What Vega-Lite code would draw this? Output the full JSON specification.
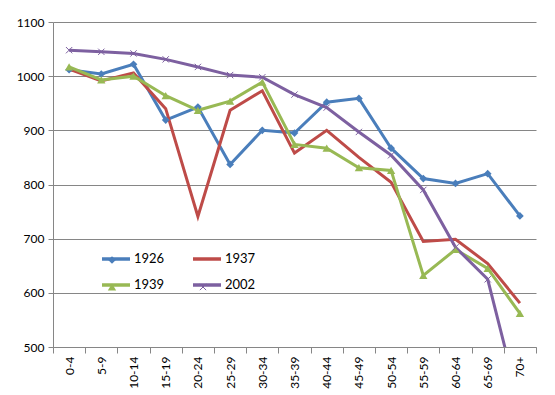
{
  "$schema": "https://vega.github.io/schema/vega-lite/v6.json",
  "width": 483,
  "height": 325,
  "autosize": {"type": "none"},
  "padding": {"left": 53, "top": 22, "right": 19, "bottom": 48},
  "background": "white",
  "config": {
    "view": {"stroke": null},
    "font": "Lato",
    "axis": {"labelFont": "Lato", "labelFontSize": 12, "labelColor": "#000000", "domainColor": "#868686", "tickColor": "#868686", "title": null}
  },
  "data": {
    "values": [
      {"age": "0-4", "series": "1926", "value": 1012},
      {"age": "5-9", "series": "1926", "value": 1004},
      {"age": "10-14", "series": "1926", "value": 1022},
      {"age": "15-19", "series": "1926", "value": 919},
      {"age": "20-24", "series": "1926", "value": 943},
      {"age": "25-29", "series": "1926", "value": 837},
      {"age": "30-34", "series": "1926", "value": 900},
      {"age": "35-39", "series": "1926", "value": 895},
      {"age": "40-44", "series": "1926", "value": 952},
      {"age": "45-49", "series": "1926", "value": 959},
      {"age": "50-54", "series": "1926", "value": 867},
      {"age": "55-59", "series": "1926", "value": 811},
      {"age": "60-64", "series": "1926", "value": 802},
      {"age": "65-69", "series": "1926", "value": 820},
      {"age": "70+", "series": "1926", "value": 742},
      {"age": "0-4", "series": "1937", "value": 1013},
      {"age": "5-9", "series": "1937", "value": 991},
      {"age": "10-14", "series": "1937", "value": 1006},
      {"age": "15-19", "series": "1937", "value": 940},
      {"age": "20-24", "series": "1937", "value": 741},
      {"age": "25-29", "series": "1937", "value": 937},
      {"age": "30-34", "series": "1937", "value": 973},
      {"age": "35-39", "series": "1937", "value": 858},
      {"age": "40-44", "series": "1937", "value": 900},
      {"age": "45-49", "series": "1937", "value": 850},
      {"age": "50-54", "series": "1937", "value": 804},
      {"age": "55-59", "series": "1937", "value": 695},
      {"age": "60-64", "series": "1937", "value": 699},
      {"age": "65-69", "series": "1937", "value": 654},
      {"age": "70+", "series": "1937", "value": 581},
      {"age": "0-4", "series": "1939", "value": 1017},
      {"age": "5-9", "series": "1939", "value": 993},
      {"age": "10-14", "series": "1939", "value": 1000},
      {"age": "15-19", "series": "1939", "value": 964},
      {"age": "20-24", "series": "1939", "value": 937},
      {"age": "25-29", "series": "1939", "value": 954},
      {"age": "30-34", "series": "1939", "value": 989},
      {"age": "35-39", "series": "1939", "value": 874},
      {"age": "40-44", "series": "1939", "value": 867},
      {"age": "45-49", "series": "1939", "value": 831},
      {"age": "50-54", "series": "1939", "value": 826},
      {"age": "55-59", "series": "1939", "value": 632},
      {"age": "60-64", "series": "1939", "value": 680},
      {"age": "65-69", "series": "1939", "value": 645},
      {"age": "70+", "series": "1939", "value": 562},
      {"age": "0-4", "series": "2002", "value": 1048},
      {"age": "5-9", "series": "2002", "value": 1045},
      {"age": "10-14", "series": "2002", "value": 1042},
      {"age": "15-19", "series": "2002", "value": 1031},
      {"age": "20-24", "series": "2002", "value": 1017},
      {"age": "25-29", "series": "2002", "value": 1002},
      {"age": "30-34", "series": "2002", "value": 998},
      {"age": "35-39", "series": "2002", "value": 966},
      {"age": "40-44", "series": "2002", "value": 942},
      {"age": "45-49", "series": "2002", "value": 897},
      {"age": "50-54", "series": "2002", "value": 854},
      {"age": "55-59", "series": "2002", "value": 790},
      {"age": "60-64", "series": "2002", "value": 684},
      {"age": "65-69", "series": "2002", "value": 625},
      {"age": "70+", "series": "2002", "value": 390}
    ]
  },
  "encoding": {
    "x": {
      "field": "age",
      "type": "ordinal",
      "sort": null,
      "bandPosition": 0.5,
      "scale": {"type": "band", "paddingInner": 0, "paddingOuter": 0},
      "axis": {"labelAngle": -90, "tickBand": "extent", "tickSize": 6, "labelPadding": 3, "grid": false}
    },
    "y": {
      "field": "value",
      "type": "quantitative",
      "scale": {"domain": [500, 1100], "nice": false, "zero": false},
      "axis": {"values": [500, 600, 700, 800, 900, 1000, 1100], "format": "d", "grid": true, "gridColor": "#868686", "tickSize": 5, "labelPadding": 4}
    }
  },
  "resolve": {"scale": {"shape": "independent"}},
  "layer": [
    {
      "mark": {"type": "line", "strokeWidth": 3, "clip": true},
      "encoding": {
        "color": {
          "field": "series",
          "type": "nominal",
          "scale": {"domain": ["1926", "1937", "1939", "2002"], "range": ["#4A7EBB", "#BE4B48", "#98B954", "#7D60A0"]},
          "legend": {
            "orient": "none", "direction": "horizontal", "legendX": 47, "legendY": 221, "columns": 2, "columnPadding": 21, "rowPadding": 3,
            "symbolType": "stroke", "symbolSize": 784, "symbolStrokeWidth": 3.5, "labelFontSize": 13, "labelFont": "Lato", "labelOffset": 2, "title": null
          }
        }
      }
    },
    {
      "transform": [{"filter": "datum.series == '1926'"}],
      "mark": {"type": "point", "filled": true, "clip": true, "opacity": 1, "size": 60, "color": "#4A7EBB"},
      "encoding": {
        "shape": {
          "field": "series", "type": "nominal",
          "scale": {"domain": ["1926"], "range": ["diamond"]},
          "legend": {"orient": "none", "legendX": 47, "legendY": 233, "symbolSize": 60, "symbolOffset": 7, "labelExpr": "''", "title": null,
            "symbolFillColor": "#4A7EBB", "symbolStrokeColor": "#4A7EBB", "symbolStrokeWidth": 0, "symbolOpacity": 1}
        }
      }
    },
    {
      "transform": [{"filter": "datum.series == '1939'"}],
      "mark": {"type": "point", "filled": true, "clip": true, "opacity": 1, "size": 70, "color": "#98B954"},
      "encoding": {
        "shape": {
          "field": "series", "type": "nominal",
          "scale": {"domain": ["1939"], "range": ["triangle-up"]},
          "legend": {"orient": "none", "legendX": 47, "legendY": 260, "symbolSize": 70, "symbolOffset": 7, "labelExpr": "''", "title": null,
            "symbolFillColor": "#98B954", "symbolStrokeColor": "#98B954", "symbolStrokeWidth": 0, "symbolOpacity": 1}
        }
      }
    },
    {
      "transform": [{"filter": "datum.series == '2002'"}],
      "mark": {"type": "point", "filled": false, "clip": true, "opacity": 1, "size": 40, "strokeWidth": 1, "color": "#7D60A0"},
      "encoding": {
        "shape": {
          "field": "series", "type": "nominal",
          "scale": {"domain": ["2002"], "range": ["M-1,-1L1,1M-1,1L1,-1"]},
          "legend": {"orient": "none", "legendX": 137, "legendY": 260, "symbolSize": 40, "symbolOffset": 8, "labelExpr": "''", "title": null,
            "symbolFillColor": "transparent", "symbolStrokeColor": "#7D60A0", "symbolStrokeWidth": 1, "symbolOpacity": 1}
        }
      }
    }
  ]
}
